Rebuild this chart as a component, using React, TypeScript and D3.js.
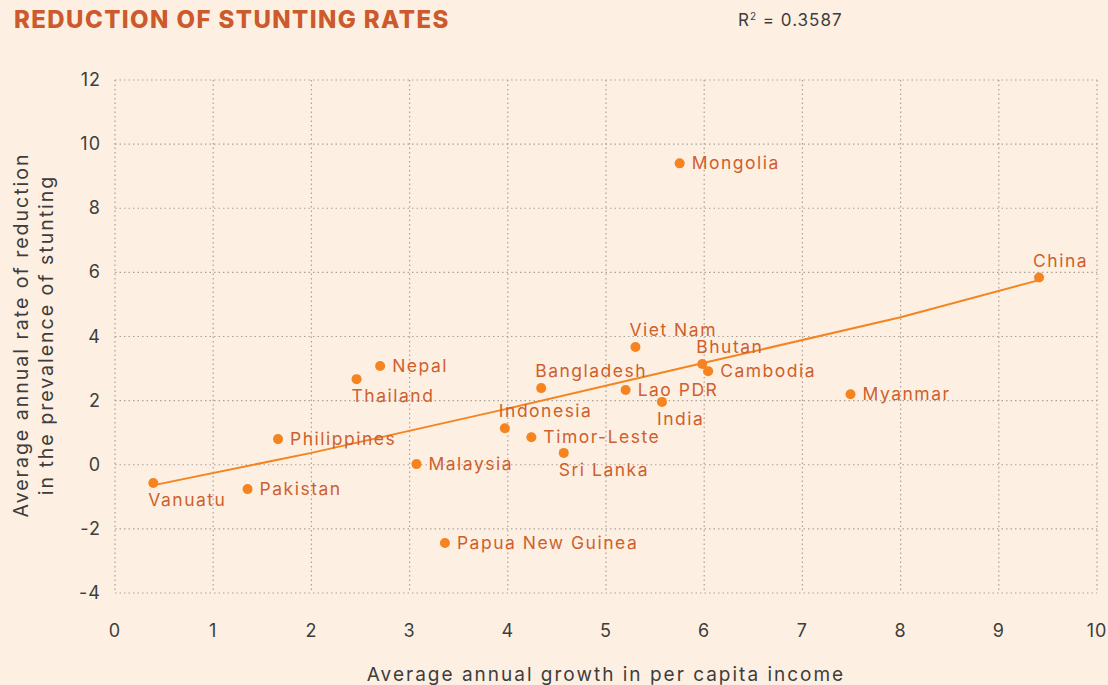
import React from "react";
import * as d3 from "d3";

const countries = ["Vanuatu","Pakistan","Philippines","Thailand","Nepal","Malaysia","Papua New Guinea","Indonesia","Timor-Leste","Bangladesh","Sri Lanka","Lao PDR","Viet Nam","India","Mongolia","Bhutan","Cambodia","Myanmar","China"];
const growth = [0.39,1.35,1.66,2.46,2.70,3.07,3.36,3.97,4.24,4.34,4.57,5.20,5.30,5.57,5.75,5.98,6.04,7.49,9.41];
const reduction = [-0.57,-0.76,0.80,2.67,3.08,0.02,-2.44,1.14,0.86,2.39,0.37,2.33,3.67,1.96,9.40,3.14,2.92,2.20,5.84];
const labelPos = ["below","right","right","below","right","right","right","above","right","above","below","right","above","below","right","above","right","right","above"];
const trendX = [0.42,2,4,6,8,9.4];
const trendY = [-0.62,0.37,1.75,3.18,4.6,5.75];
const xTicks = [0,1,2,3,4,5,6,7,8,9,10];
const yTicks = [-4,-2,0,2,4,6,8,10,12];

const W = 1108, H = 685;
const FONT = "Inter, 'Noto Sans', sans-serif";

export default function App() {
  const x = d3.scaleLinear().domain([0, 10]).range([115, 1097]);
  const y = d3.scaleLinear().domain([-4, 12]).range([593, 80]);
  const line = d3.line<number>().x((_, i) => x(trendX[i])).y((_, i) => y(trendY[i]));
  const grid = "#a9a29c";
  const pointColor = "#f5831f";
  const labelColor = "#cf5f2d";
  const axisText = "#3d3d3d";
  return (
    <svg width={W} height={H} style={{ position: "absolute", left: 0, top: 0, background: "#fdf0e3" }} fontFamily={FONT}>
      <rect x={0} y={0} width={W} height={H} fill="#fdf0e3" />
      <text x={14} y={28} fontSize={24} fontWeight={800} fill="#cc5a2c" letterSpacing={1.4}>REDUCTION OF STUNTING RATES</text>
      <text x={738} y={26} fontSize={17} fill={axisText} letterSpacing={1}>R<tspan dy={-6} fontSize={10}>2</tspan><tspan dy={6}> = 0.3587</tspan></text>
      {xTicks.map(t => (
        <line key={"gx" + t} x1={x(t)} x2={x(t)} y1={y(12)} y2={y(-4)} stroke={grid} strokeWidth={1.2} strokeDasharray="1.5,3" />
      ))}
      {yTicks.map(t => (
        <line key={"gy" + t} x1={x(0)} x2={x(10)} y1={y(t)} y2={y(t)} stroke={grid} strokeWidth={1.2} strokeDasharray="1.5,3" />
      ))}
      {xTicks.map(t => (
        <text key={"tx" + t} x={x(t)} y={637} textAnchor="middle" fontSize={18} fill={axisText} letterSpacing={1}>{t}</text>
      ))}
      {yTicks.map(t => (
        <text key={"ty" + t} x={101} y={y(t) + 6} textAnchor="end" fontSize={18} fill={axisText} letterSpacing={1}>{t}</text>
      ))}
      <text x={606} y={681} textAnchor="middle" fontSize={19} fill={axisText} letterSpacing={2}>Average annual growth in per capita income</text>
      <g transform={`translate(0, 335) rotate(-90)`}>
        <text x={0} y={28} textAnchor="middle" fontSize={19.5} fill={axisText} letterSpacing={2}>Average annual rate of reduction</text>
        <text x={0} y={53} textAnchor="middle" fontSize={19.5} fill={axisText} letterSpacing={2}>in the prevalence of stunting</text>
      </g>
      <path d={line(trendX) || ""} fill="none" stroke={pointColor} strokeWidth={2} />
      {countries.map((c, i) => {
        const px = x(growth[i]);
        const py = y(reduction[i]);
        const pos = labelPos[i];
        let tx = px + 12, ty = py + 6;
        if (pos === "above") { tx = px - 6; ty = py - 11; }
        if (pos === "below") { tx = px - 5; ty = py + 23; }
        return (
          <g key={c}>
            <circle cx={px} cy={py} r={5} fill={pointColor} />
            <text x={tx} y={ty} fontSize={17.5} fill={labelColor} letterSpacing={1.5}>{c}</text>
          </g>
        );
      })}
    </svg>
  );
}
